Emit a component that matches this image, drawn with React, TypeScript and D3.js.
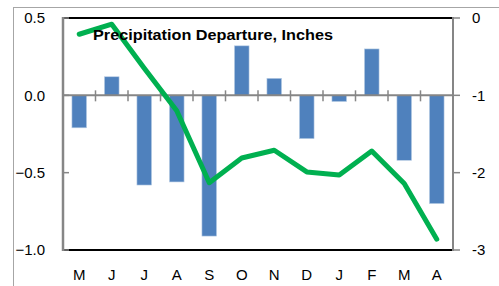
import React, { useRef, useEffect } from "react";
import * as d3 from "d3";

const months = ["M", "J", "J", "A", "S", "O", "N", "D", "J", "F", "M", "A"];
// monthly departure (bars, left axis)
const departure = [-0.21, 0.12, -0.58, -0.56, -0.91, 0.32, 0.11, -0.28, -0.04, 0.3, -0.42, -0.7];
// running total (green line, right axis)
const cumulative = [-0.21, -0.08, -0.65, -1.2, -2.13, -1.81, -1.71, -1.99, -2.03, -1.72, -2.14, -2.86];
const leftTicks = [0.5, 0, -0.5, -1.0];
const rightTicks = [0, -1, -2, -3];
const title = "Precipitation Departure, Inches";

export default function App() {
  const svgRef = useRef<SVGSVGElement>(null);

  useEffect(() => {
    const svg = d3.select(svgRef.current);
    svg.selectAll("*").remove();

    const width = 499;
    const height = 286;
    const margin = { top: 18, right: 46, bottom: 36, left: 63 };
    const font = "'Liberation Sans', Arial, sans-serif";

    svg.attr("width", width).attr("height", height);

    // outer chart frame
    svg.append("rect")
      .attr("x", 13.5)
      .attr("y", 7.5)
      .attr("width", 520)
      .attr("height", 320)
      .attr("fill", "white")
      .attr("stroke", "#a6a6a6")
      .attr("stroke-width", 1);

    const x = d3.scaleBand<number>()
      .domain(d3.range(months.length))
      .range([margin.left, width - margin.right])
      .paddingInner(0.55)
      .paddingOuter(0.275);

    const y = d3.scaleLinear()
      .domain([-1, 0.5])
      .range([height - margin.bottom, margin.top]);

    const y2 = d3.scaleLinear()
      .domain([-3, 0])
      .range([height - margin.bottom, margin.top]);

    const x0 = margin.left;
    const x1 = width - margin.right;
    const step = x.step();

    // bars
    svg.append("g")
      .selectAll("rect")
      .data(departure)
      .enter()
      .append("rect")
      .attr("x", (d, i) => x(i)!)
      .attr("width", x.bandwidth())
      .attr("y", d => y(Math.max(0, d)))
      .attr("height", d => Math.abs(y(d) - y(0)))
      .attr("fill", "#4f81bd")
      .attr("stroke", "#b9cde5")
      .attr("stroke-width", 0.6);

    // category axis at zero
    svg.append("line")
      .attr("x1", x0).attr("x2", x1)
      .attr("y1", y(0)).attr("y2", y(0))
      .attr("stroke", "#868686")
      .attr("stroke-width", 2);

    svg.append("g")
      .selectAll("line")
      .data(d3.range(1, months.length))
      .enter()
      .append("line")
      .attr("x1", i => x0 + i * step)
      .attr("x2", i => x0 + i * step)
      .attr("y1", y(0) - 5)
      .attr("y2", y(0) + 6)
      .attr("stroke", "#868686")
      .attr("stroke-width", 1.5);

    // plot area top / bottom border
    svg.append("line")
      .attr("x1", x0).attr("x2", x1)
      .attr("y1", margin.top).attr("y2", margin.top)
      .attr("stroke", "#000")
      .attr("stroke-width", 2);
    svg.append("line")
      .attr("x1", x0).attr("x2", x1)
      .attr("y1", height - margin.bottom).attr("y2", height - margin.bottom)
      .attr("stroke", "#000")
      .attr("stroke-width", 2);

    // left axis
    svg.append("line")
      .attr("x1", x0).attr("x2", x0)
      .attr("y1", margin.top - 1).attr("y2", height - margin.bottom + 1)
      .attr("stroke", "#868686")
      .attr("stroke-width", 2.5);

    const left = svg.append("g");
    left.selectAll("line")
      .data(leftTicks)
      .enter()
      .append("line")
      .attr("x1", x0).attr("x2", x0 + 6)
      .attr("y1", d => y(d)).attr("y2", d => y(d))
      .attr("stroke", "#868686")
      .attr("stroke-width", 1.5);
    left.selectAll("text")
      .data(leftTicks)
      .enter()
      .append("text")
      .attr("x", 45)
      .attr("y", d => y(d))
      .attr("dy", "0.35em")
      .attr("text-anchor", "end")
      .style("font-family", font)
      .style("font-size", "15px")
      .text(d => d3.format(".1f")(d));

    // right axis
    svg.append("line")
      .attr("x1", x1).attr("x2", x1)
      .attr("y1", margin.top - 1).attr("y2", height - margin.bottom + 1)
      .attr("stroke", "#868686")
      .attr("stroke-width", 2);

    const right = svg.append("g");
    right.selectAll("line")
      .data(rightTicks)
      .enter()
      .append("line")
      .attr("x1", x1).attr("x2", x1 + 7)
      .attr("y1", d => y2(d)).attr("y2", d => y2(d))
      .attr("stroke", "#868686")
      .attr("stroke-width", 1.5);
    right.selectAll("text")
      .data(rightTicks)
      .enter()
      .append("text")
      .attr("x", 472)
      .attr("y", d => y2(d))
      .attr("dy", "0.35em")
      .style("font-family", font)
      .style("font-size", "15px")
      .text(d => String(d));

    // month labels
    svg.append("g")
      .selectAll("text")
      .data(months)
      .enter()
      .append("text")
      .attr("x", (d, i) => x(i)! + x.bandwidth() / 2)
      .attr("y", 275)
      .attr("dy", "0.35em")
      .attr("text-anchor", "middle")
      .style("font-family", font)
      .style("font-size", "15px")
      .text(d => d);

    // cumulative line
    const line = d3.line<number>()
      .x((d, i) => x(i)! + x.bandwidth() / 2)
      .y(d => y2(d));

    svg.append("path")
      .datum(cumulative)
      .attr("d", line)
      .attr("fill", "none")
      .attr("stroke", "#00b050")
      .attr("stroke-width", 5)
      .attr("stroke-linejoin", "round")
      .attr("stroke-linecap", "round");

    svg.append("text")
      .attr("x", 93)
      .attr("y", 40)
      .attr("textLength", 240)
      .attr("lengthAdjust", "spacingAndGlyphs")
      .style("font-family", font)
      .style("font-size", "15px")
      .style("font-weight", "bold")
      .text(title);
  }, []);

  return (
    <div style={{ position: "fixed", left: 0, top: 0 }}>
      <svg ref={svgRef}></svg>
    </div>
  );
}
